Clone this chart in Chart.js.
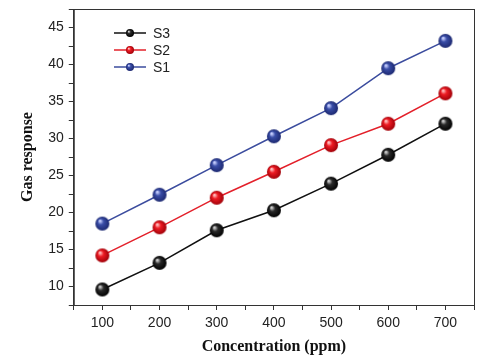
<!DOCTYPE html>
<html>
<head>
<meta charset="utf-8">
<script src="https://cdn.jsdelivr.net/npm/chart.js@4"></script>
<style>
  html, body { margin: 0; padding: 0; background: #fff; }
  #wrap { width: 500px; height: 361px; }
</style>
</head>
<body>
<div id="wrap"><canvas id="chart" width="500" height="361"></canvas></div>
<script>
// dados
const concentrations = [100, 200, 300, 400, 500, 600, 700];
const s1 = [18.5, 22.4, 26.4, 30.3, 34.1, 39.5, 43.2];
const s2 = [14.2, 18.0, 22.0, 25.5, 29.1, 32.0, 36.1];
const s3 = [9.6, 13.2, 17.6, 20.3, 23.9, 27.8, 32.0];
const seriesNames = ['S3', 'S2', 'S1'];

// bolinha com brilho (esfera)
function makeBall(base, light, dark, r) {
    const c = document.createElement('canvas');
    c.width = c.height = r * 2 + 2;
    const g = c.getContext('2d');
    const cx = r + 1, cy = r + 1;
    const grad = g.createRadialGradient(cx - r * 0.35, cy - r * 0.4, r * 0.1, cx, cy, r);
    grad.addColorStop(0, light);
    grad.addColorStop(0.35, base);
    grad.addColorStop(1, dark);
    g.fillStyle = grad;
    g.beginPath();
    g.arc(cx, cy, r, 0, Math.PI * 2);
    g.fill();
    return c;
}

const balls = {
    S3: makeBall('#2a2a2a', '#d0d0d0', '#000000', 7),
    S2: makeBall('#ee1c24', '#ffc0c0', '#a00008', 7),
    S1: makeBall('#3a4ea8', '#c8d0ff', '#1c2870', 7)
};
const smallBalls = {
    S3: makeBall('#2a2a2a', '#d0d0d0', '#000000', 4),
    S2: makeBall('#ee1c24', '#ffc0c0', '#a00008', 4),
    S1: makeBall('#3a4ea8', '#c8d0ff', '#1c2870', 4)
};
const lineColors = { S3: '#111111', S2: '#e3202a', S1: '#3b4c9e' };

function toPoints(arr) {
    return concentrations.map((x, i) => ({ x: x, y: arr[i] }));
}

// moldura + legenda
const framePlugin = {
    id: 'frame',
    afterDraw(chart) {
        const ctx = chart.ctx;
        const a = chart.chartArea;
        ctx.save();
        ctx.strokeStyle = '#333';
        ctx.lineWidth = 1;
        ctx.strokeRect(a.left + 0.5, a.top + 0.5, a.right - a.left, a.bottom - a.top);

        // legenda dentro do gráfico
        ctx.font = '14px "Liberation Sans", Arial, sans-serif';
        ctx.textBaseline = 'middle';
        ctx.fillStyle = '#222';
        seriesNames.forEach((name, i) => {
            const y = 33 + i * 17;
            ctx.strokeStyle = lineColors[name];
            ctx.lineWidth = 1.5;
            ctx.beginPath();
            ctx.moveTo(114, y);
            ctx.lineTo(146, y);
            ctx.stroke();
            const b = smallBalls[name];
            ctx.drawImage(b, 130 - b.width / 2, y - b.height / 2);
            ctx.fillText(name, 153, y + 1);
        });
        ctx.restore();
    }
};

new Chart(document.getElementById('chart'), {
    type: 'line',
    data: {
        datasets: [
            { label: 'S3', data: toPoints(s3), borderColor: lineColors.S3, pointStyle: balls.S3 },
            { label: 'S2', data: toPoints(s2), borderColor: lineColors.S2, pointStyle: balls.S2 },
            { label: 'S1', data: toPoints(s1), borderColor: lineColors.S1, pointStyle: balls.S1 }
        ].map(d => Object.assign(d, { borderWidth: 1.5, tension: 0, fill: false }))
    },
    options: {
        responsive: false,
        animation: false,
        layout: { padding: { top: 9, right: 26, left: 18, bottom: 5 } },
        plugins: { legend: { display: false }, tooltip: { enabled: false } },
        scales: {
            x: {
                type: 'linear',
                min: 50, max: 750,
                border: { display: true, color: '#333', width: 1 },
                grid: { drawOnChartArea: false, drawTicks: true, tickLength: 5, color: '#333' },
                ticks: {
                    stepSize: 50, autoSkip: false, maxRotation: 0,
                    color: '#222', padding: 5,
                    font: { family: '"Liberation Sans", Arial, sans-serif', size: 14 },
                    callback: v => (v % 100 === 0 ? v : '')
                },
                title: {
                    display: true, text: 'Concentration (ppm)', color: '#111',
                    font: { family: '"Liberation Serif", "Times New Roman", serif', size: 16, weight: 'bold' },
                    padding: { top: 0, bottom: 0 }
                }
            },
            y: {
                min: 7.5, max: 47.5,
                afterFit: s => { s.paddingTop = 0; },
                border: { display: true, color: '#333', width: 1 },
                grid: { drawOnChartArea: false, drawTicks: true, tickLength: 5, color: '#333' },
                ticks: {
                    stepSize: 2.5, autoSkip: false,
                    color: '#222', padding: 5,
                    font: { family: '"Liberation Sans", Arial, sans-serif', size: 14 },
                    callback: v => (v % 5 === 0 ? v : '')
                },
                title: {
                    display: true, text: 'Gas response', color: '#111',
                    font: { family: '"Liberation Serif", "Times New Roman", serif', size: 16, weight: 'bold' },
                    padding: { top: 0, bottom: 6 }
                }
            }
        }
    },
    plugins: [framePlugin]
});
</script>
</body>
</html>
